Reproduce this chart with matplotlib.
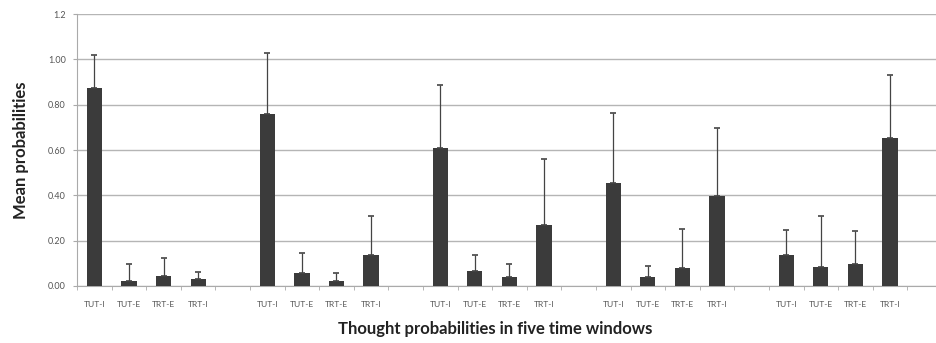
import numpy as np
import matplotlib
matplotlib.use('Agg')
import matplotlib.pyplot as plt

plt.rcParams['font.family'] = ['Lato', 'DejaVu Sans']

# data
thoughts = ['TUT-I', 'TUT-E', 'TRT-E', 'TRT-I']
means = [
    [0.875, 0.023, 0.044, 0.032],
    [0.761, 0.059, 0.023, 0.137],
    [0.609, 0.065, 0.038, 0.267],
    [0.453, 0.041, 0.080, 0.398],
    [0.137, 0.085, 0.096, 0.652],
]
upper = [
    [1.018, 0.097, 0.125, 0.063],
    [1.027, 0.145, 0.056, 0.307],
    [0.886, 0.136, 0.096, 0.559],
    [0.762, 0.087, 0.251, 0.696],
    [0.248, 0.307, 0.242, 0.932],
]
yticks = [0.0, 0.2, 0.4, 0.6, 0.8, 1.0, 1.2]
ytick_labels = ['0.00', '0.20', '0.40', '0.60', '0.80', '1.00', '1.2']

# build category slots: 4 bars then a blank slot
pos, vals, errs = [], [], []
all_labels = []
slot = 0
for g in range(len(means)):
    for k in range(4):
        pos.append(slot)
        vals.append(means[g][k])
        errs.append(upper[g][k] - means[g][k])
        all_labels.append(thoughts[k])
        slot += 1
    if g < len(means) - 1:
        all_labels.append('')
        slot += 1
n_slots = slot

fig = plt.figure(figsize=(9.36, 3.43), dpi=100)
ax = fig.add_axes([0.0823, 0.1662, 0.9177, 0.7928])

ax.bar(pos, vals, width=0.44, color='#3b3b3b', zorder=3)
ax.errorbar(pos, vals, yerr=[np.zeros(len(errs)), errs], fmt='none',
            ecolor='#444444', elinewidth=0.9, capsize=2.5, capthick=1.2, zorder=4)

ax.set_ylim(0, 1.2)
ax.set_xlim(-0.5, 24.33)
ax.set_yticks(yticks)
ax.set_yticklabels(ytick_labels, fontsize=6.5, color='#555555')
ax.yaxis.grid(True, color='#b5b5b5', linewidth=1.0)
ax.set_axisbelow(True)

ax.set_xticks(range(n_slots))
ax.set_xticklabels(all_labels, fontsize=6, color='#555555')
ax.tick_params(axis='x', which='major', length=0, pad=11)
ax.set_xticks(np.arange(n_slots + 1) - 0.5, minor=True)
ax.tick_params(axis='x', which='minor', length=3, color='#aaaaaa')
ax.tick_params(axis='y', length=3, color='#aaaaaa', pad=5)

for s in ['top', 'right']:
    ax.spines[s].set_visible(False)
ax.spines['left'].set_color('#aaaaaa')
ax.spines['bottom'].set_color('#aaaaaa')

ax.set_ylabel('Mean probabilities', fontsize=12, fontweight='bold', color='#222222', labelpad=14)
fig.text(0.529, 0.025, 'Thought probabilities in five time windows', fontsize=12,
         fontweight='bold', color='#222222', ha='center')

fig.savefig('out.png', dpi=100)
